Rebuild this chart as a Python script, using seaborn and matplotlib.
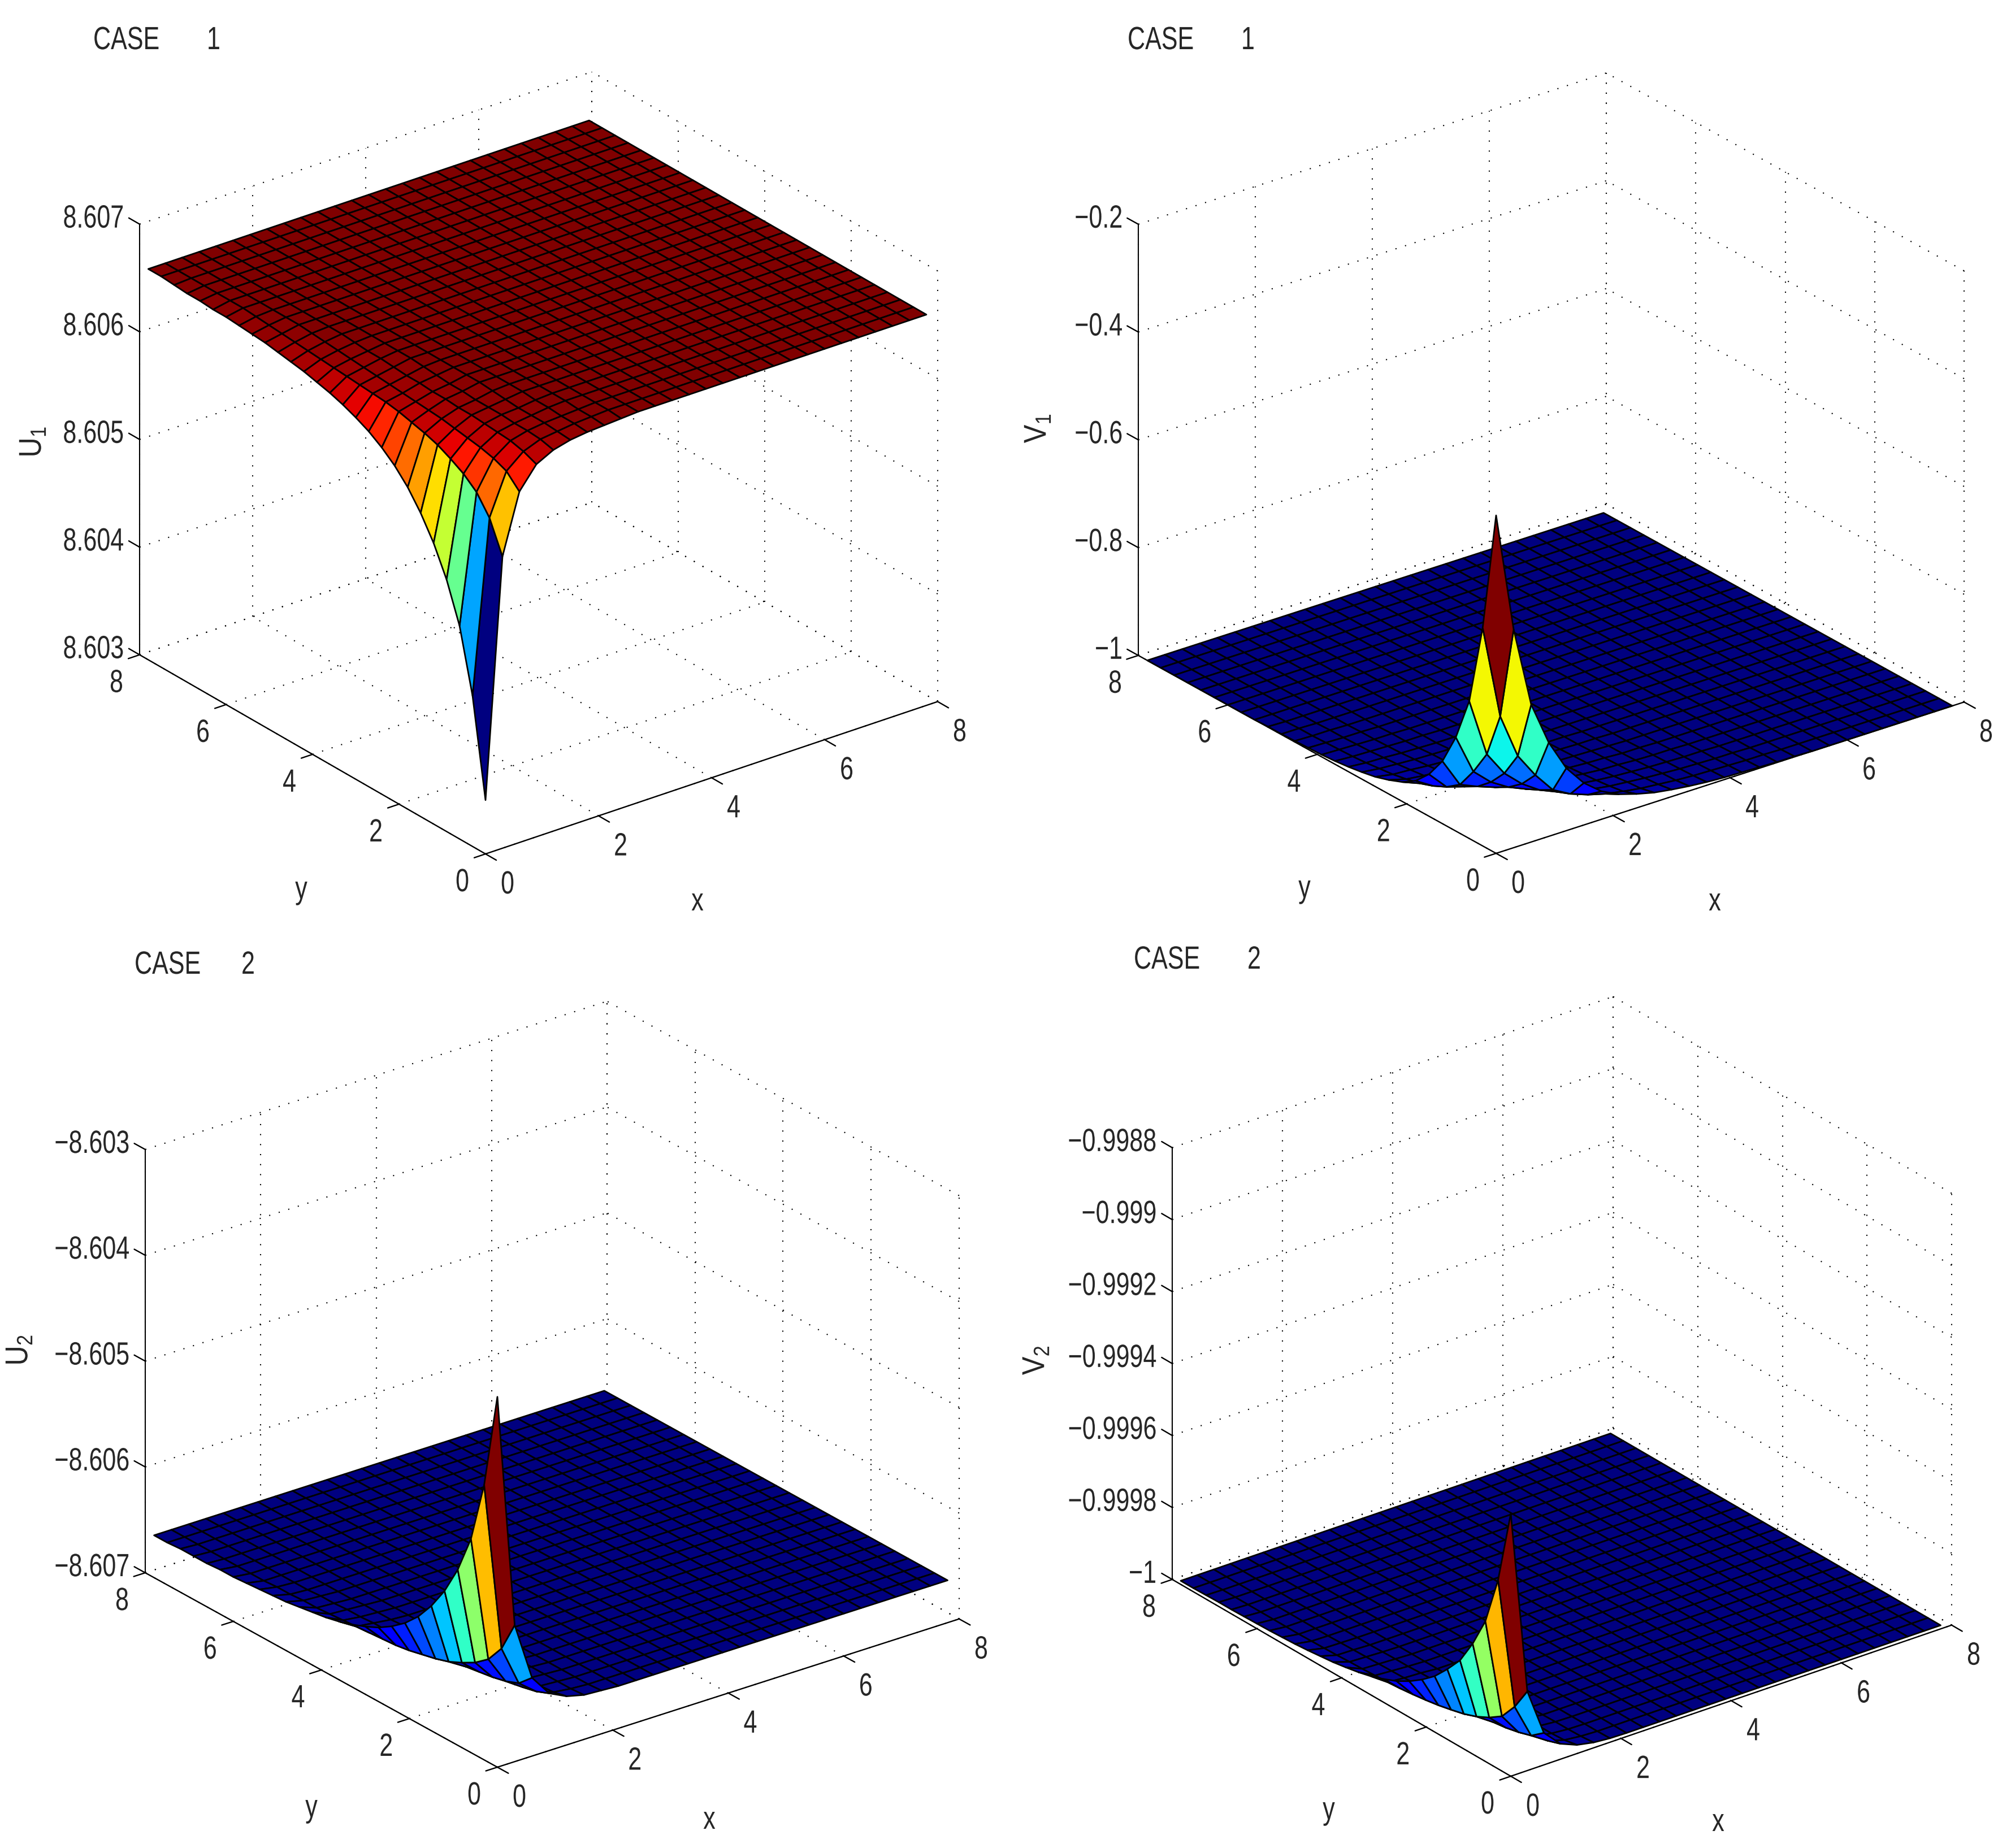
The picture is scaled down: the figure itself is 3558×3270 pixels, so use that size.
import numpy as np
import seaborn as sns
import matplotlib
matplotlib.use("Agg")
import matplotlib.pyplot as plt
import matplotlib.patheffects as pe
from matplotlib.transforms import Affine2D
from mpl_toolkits.mplot3d import proj3d

sns.set_style("white")
plt.rcParams["font.family"] = ["Liberation Sans", "DejaVu Sans"]
plt.rcParams["mathtext.default"] = "regular"

W, H = 3558, 3270

# grid nodes (x and y are the same)
grid = [0.3 * k for k in range(27)]
ticks_xy = [0, 2, 4, 6, 8]

# height above / below the flat part, rows = x index, columns = y index
# everything not listed is flat. unit 1e-5
u1_rows = [
    [313, 223, 165, 129, 102, 81, 64, 51, 41, 33, 27, 22, 18, 15, 12, 10, 8, 6, 5, 4, 3, 3, 2, 2, 1],
    [92, 63, 46, 36, 29, 23, 19, 16, 13, 11, 10, 9, 8, 7, 6, 5, 4, 3, 2, 1],
    [37, 25, 20, 17, 15, 13, 11, 10, 9, 8, 7, 6, 5, 4, 3, 2, 1],
    [17, 12, 9, 8, 7, 6, 6, 5, 5, 4, 4, 3, 2, 2, 1],
    [9, 6, 5, 5, 4, 4, 4, 3, 3, 2, 1],
    [5, 4, 3, 3, 3, 2, 1],
    [3, 2, 2, 1, 1],
    [2, 1, 1],
    [1],
]

u2_rows = [
    [310, 220, 162, 126, 99, 78, 61, 48, 38, 30, 24, 19, 15, 12, 10, 8, 6, 5, 4, 3, 2, 2, 1, 1, 1],
    [89, 60, 43, 33, 26, 20, 16, 13, 10, 8, 7, 6, 5, 4, 3, 2, 2, 1, 1],
    [34, 22, 17, 14, 12, 10, 8, 7, 6, 5, 4, 3, 3, 2, 2, 1, 1],
    [14, 9, 6, 5, 5, 4, 4, 3, 3, 2, 2, 2, 1, 1, 1],
    [6, 3, 2, 2, 2, 2, 2, 1, 1, 1, 1],
    [2, 1, 1, 1, 1, 1],
    [1],
]

# unit 1e-3
v1_rows = [
    [627, 405, 255, 174, 116, 78, 52, 36, 26, 18, 13, 9, 6, 4, 3, 2, 1, 1],
    [405, 230, 146, 100, 62, 44, 32, 23, 17, 12, 9, 6, 4, 3, 2, 1, 1],
    [255, 146, 100, 70, 48, 34, 25, 18, 13, 10, 7, 5, 3, 2, 1, 1],
    [174, 100, 70, 50, 36, 26, 19, 14, 10, 7, 5, 3, 2, 1, 1],
    [116, 62, 48, 36, 27, 20, 15, 11, 8, 5, 4, 2, 1, 1],
    [78, 44, 34, 26, 20, 15, 11, 8, 6, 4, 3, 1, 1],
    [52, 32, 25, 19, 15, 11, 8, 6, 4, 3, 2, 1],
    [36, 23, 18, 14, 11, 8, 6, 4, 3, 2, 1, 1],
    [26, 17, 13, 10, 8, 6, 4, 3, 2, 1, 1],
    [18, 12, 10, 7, 5, 4, 3, 2, 1, 1],
    [13, 9, 7, 5, 4, 3, 2, 1, 1],
    [9, 6, 5, 3, 2, 1, 1, 1],
    [6, 4, 3, 2, 1, 1],
    [4, 3, 2, 1, 1],
    [3, 2, 1, 1],
    [2, 1, 1],
    [1, 1],
    [1],
]

# unit 1e-5
v2_rows = [
    [72, 51.5, 38, 29.7, 23, 18.5, 14.5, 11.5, 9, 7, 5.5, 4.2, 3.3, 2.6, 2, 1.6, 1.2, 0.9, 0.7, 0.5, 0.4, 0.3, 0.2, 0.2, 0.1],
    [21, 14.7, 10, 7.6, 5.8, 4.5, 3.6, 2.8, 2.2, 1.7, 1.3, 1, 0.8, 0.6, 0.5, 0.3, 0.2, 0.1],
    [7.9, 5.1, 4, 3.2, 2.7, 2.2, 1.8, 1.5, 1.2, 1, 0.8, 0.6, 0.5, 0.4, 0.3, 0.2, 0.1],
    [3.3, 2.1, 1.4, 1.2, 1.1, 0.9, 0.9, 0.7, 0.7, 0.5, 0.5, 0.4, 0.2, 0.2, 0.1],
    [1.4, 0.7, 0.5, 0.5, 0.5, 0.4, 0.4, 0.2, 0.2, 0.1],
    [0.5, 0.2, 0.1, 0.1],
    [0.1],
]

z_ticks_u1 = [8.603, 8.604, 8.605, 8.606, 8.607]
z_labels_u1 = ["8.603", "8.604", "8.605", "8.606", "8.607"]
z_ticks_v1 = [-1, -0.8, -0.6, -0.4, -0.2]
z_labels_v1 = ["\u22121", "\u22120.8", "\u22120.6", "\u22120.4", "\u22120.2"]
z_ticks_u2 = [-8.607, -8.606, -8.605, -8.604, -8.603]
z_labels_u2 = ["\u22128.607", "\u22128.606", "\u22128.605", "\u22128.604", "\u22128.603"]
z_ticks_v2 = [-1, -0.9998, -0.9996, -0.9994, -0.9992, -0.999, -0.9988]
z_labels_v2 = ["\u22121", "\u22120.9998", "\u22120.9996", "\u22120.9994", "\u22120.9992", "\u22120.999", "\u22120.9988"]

# seaborn refuses to hand out jet, take it from matplotlib
jet = matplotlib.colormaps["jet"]

panels = [
    dict(rows=u1_rows, flat=8.60663, sign=-1, unit=1e-5, zt=z_ticks_u1, zl=z_labels_u1,
         o=(859, 1511), xe=(1659, 1241), ye=(247, 1159), ztop=397,
         name="U$_1$", name_at=(58, 782), case="CASE       1", case_at=(165, 87),
         x_at=(1234, 1611), y_at=(533, 1590)),
    dict(rows=v1_rows, flat=-1.0, sign=1, unit=1e-3, zt=z_ticks_v1, zl=z_labels_v1,
         o=(2647, 1510), xe=(3475, 1242), ye=(2014, 1160), ztop=397,
         name="V$_1$", name_at=(1836, 758), case="CASE       1", case_at=(1995, 87),
         x_at=(3034, 1611), y_at=(2308, 1588)),
    dict(rows=u2_rows, flat=-8.6066, sign=1, unit=1e-5, zt=z_ticks_u2, zl=z_labels_u2,
         o=(880, 3127), xe=(1697, 2866), ye=(257, 2782), ztop=2033,
         name="U$_2$", name_at=(34, 2389), case="CASE      2", case_at=(238, 1723),
         x_at=(1255, 3236), y_at=(551, 3215)),
    dict(rows=v2_rows, flat=-0.99999, sign=1, unit=1e-5, zt=z_ticks_v2, zl=z_labels_v2,
         o=(2673, 3143), xe=(3453, 2882), ye=(2074, 2790), ztop=2026,
         name="V$_2$", name_at=(1833, 2407), case="CASE       2", case_at=(2006, 1714),
         x_at=(3040, 3240), y_at=(2351, 3219)),
]

FS = 31
TALL = 1.32
DOTS = (0, (1, 7.5))


class Stretch(pe.AbstractPathEffect):
    # the reference text is squeezed sideways, no narrow font here so pull it taller
    def __init__(self, x0, y0, kx=1.0, ky=1.0):
        super().__init__()
        self.t = Affine2D().translate(-x0, -y0).scale(kx, ky).translate(x0, y0)

    def draw_path(self, renderer, gc, tpath, affine, rgbFace=None):
        renderer.draw_path(gc, tpath, affine + self.t, rgbFace)


def label(x, y, s, ha="center"):
    # x, y in pixels from the bottom left, y is the baseline
    fig.text(x / W, y / H, s, ha=ha, va="baseline", fontsize=FS,
             path_effects=[Stretch(x, y, ky=TALL)])


def screen(ax, x, y, z):
    px, py, _ = proj3d.proj_transform(x, y, z, ax.get_proj())
    return ax.transData.transform((px, py))


def place(ax, p, zmin):
    # make the box land on the pixels
    ax.set_position([0, 0, 0.5, 0.5 * W / H])
    ax.apply_aspect()
    a = screen(ax, 8, 0, zmin) - screen(ax, 0, 8, zmin)
    want = p["xe"][0] - p["ye"][0]
    side = 0.5 * W * want / a[0]
    ax.set_position([0, 0, side / W, side / H])
    ax.apply_aspect()
    now = screen(ax, 0, 0, zmin)
    ax.set_position([(p["o"][0] - now[0]) / W, ((H - p["o"][1]) - now[1]) / H, side / W, side / H])
    ax.apply_aspect()


fig = plt.figure(figsize=(W / 100, H / 100), dpi=100, facecolor="white")

for p in panels:
    zt = p["zt"]
    zmin, zmax = zt[0], zt[-1]

    Z = np.full((len(grid), len(grid)), p["flat"])
    for i, row in enumerate(p["rows"]):
        Z[i, :len(row)] += p["sign"] * np.array(row) * p["unit"]
    X, Y = np.meshgrid(grid, grid, indexing="ij")

    # view from the measured box edges
    xv = np.array(p["xe"]) - np.array(p["o"])
    yv = np.array(p["ye"]) - np.array(p["o"])
    turn = np.degrees(np.arctan2(-yv[0], xv[0]))
    span = np.hypot(xv[0], yv[0])
    sin_el = np.hypot(xv[1], yv[1]) / span
    elev = np.degrees(np.arcsin(sin_el))
    zbox = (p["ye"][1] - p["ztop"]) / (span * np.cos(np.radians(elev)))

    ax = fig.add_axes([0, 0, 0.5, 0.5], projection="3d", proj_type="ortho", computed_zorder=False)
    ax.view_init(elev=elev, azim=-90 - turn)
    ax.set_box_aspect((1, 1, zbox))
    ax.set_xlim(0, 8)
    ax.set_ylim(0, 8)
    ax.set_zlim(zmin, zmax)
    ax.set_axis_off()
    ax.patch.set_visible(False)
    place(ax, p, zmin)

    # dotted grid on floor and the two back walls
    for t in ticks_xy:
        ax.plot([t, t], [0, 8], [zmin, zmin], color="k", lw=1.5, ls=DOTS, zorder=1)
        ax.plot([0, 8], [t, t], [zmin, zmin], color="k", lw=1.5, ls=DOTS, zorder=1)
        ax.plot([t, t], [8, 8], [zmin, zmax], color="k", lw=1.5, ls=DOTS, zorder=1)
        ax.plot([8, 8], [t, t], [zmin, zmax], color="k", lw=1.5, ls=DOTS, zorder=1)
    for t in zt:
        ax.plot([0, 8], [8, 8], [t, t], color="k", lw=1.5, ls=DOTS, zorder=1)
        ax.plot([8, 8], [0, 8], [t, t], color="k", lw=1.5, ls=DOTS, zorder=1)

    # solid axes and ticks
    ax.plot([0, 8], [0, 0], [zmin, zmin], color="k", lw=1.7, zorder=3)
    ax.plot([0, 0], [0, 8], [zmin, zmin], color="k", lw=1.7, zorder=3)
    ax.plot([0, 0], [8, 8], [zmin, zmax], color="k", lw=1.5, zorder=3)
    for t in ticks_xy:
        ax.plot([t, t], [0, -0.25], [zmin, zmin], color="k", lw=1.7, zorder=3)
        ax.plot([0, -0.2], [t, t], [zmin, zmin], color="k", lw=1.7, zorder=3)
        sx, sy = screen(ax, t, 0, zmin)
        label(sx + 39, sy - 70, str(t))
        sx, sy = screen(ax, 0, t, zmin)
        label(sx - 41, sy - 66, str(t))
    for t, lab in zip(zt, p["zl"]):
        ax.plot([0, 0], [8, 8.25], [t, t], color="k", lw=1.7, zorder=3)
        sx, sy = screen(ax, 0, 8, t)
        label(sx - 28, sy - 6, lab, ha="right")

    # flat shaded mesh, colour from the first corner of each cell like matlab
    c = (Z - Z.min()) / (Z.max() - Z.min())
    ax.plot_surface(X, Y, Z, facecolors=jet(c), rstride=1, cstride=1, shade=False,
                    edgecolor="k", linewidth=2.0, antialiased=True, zorder=2)

    label(p["case_at"][0], H - p["case_at"][1], p["case"], ha="left")
    label(p["x_at"][0], H - p["x_at"][1], "x")
    label(p["y_at"][0], H - p["y_at"][1], "y")
    nx, ny = p["name_at"]
    fig.text(nx / W, 1 - ny / H, p["name"], rotation=90, ha="center", va="center", fontsize=35,
             path_effects=[Stretch(nx, H - ny, kx=1.15)])

fig.savefig("out.png", dpi=100)
